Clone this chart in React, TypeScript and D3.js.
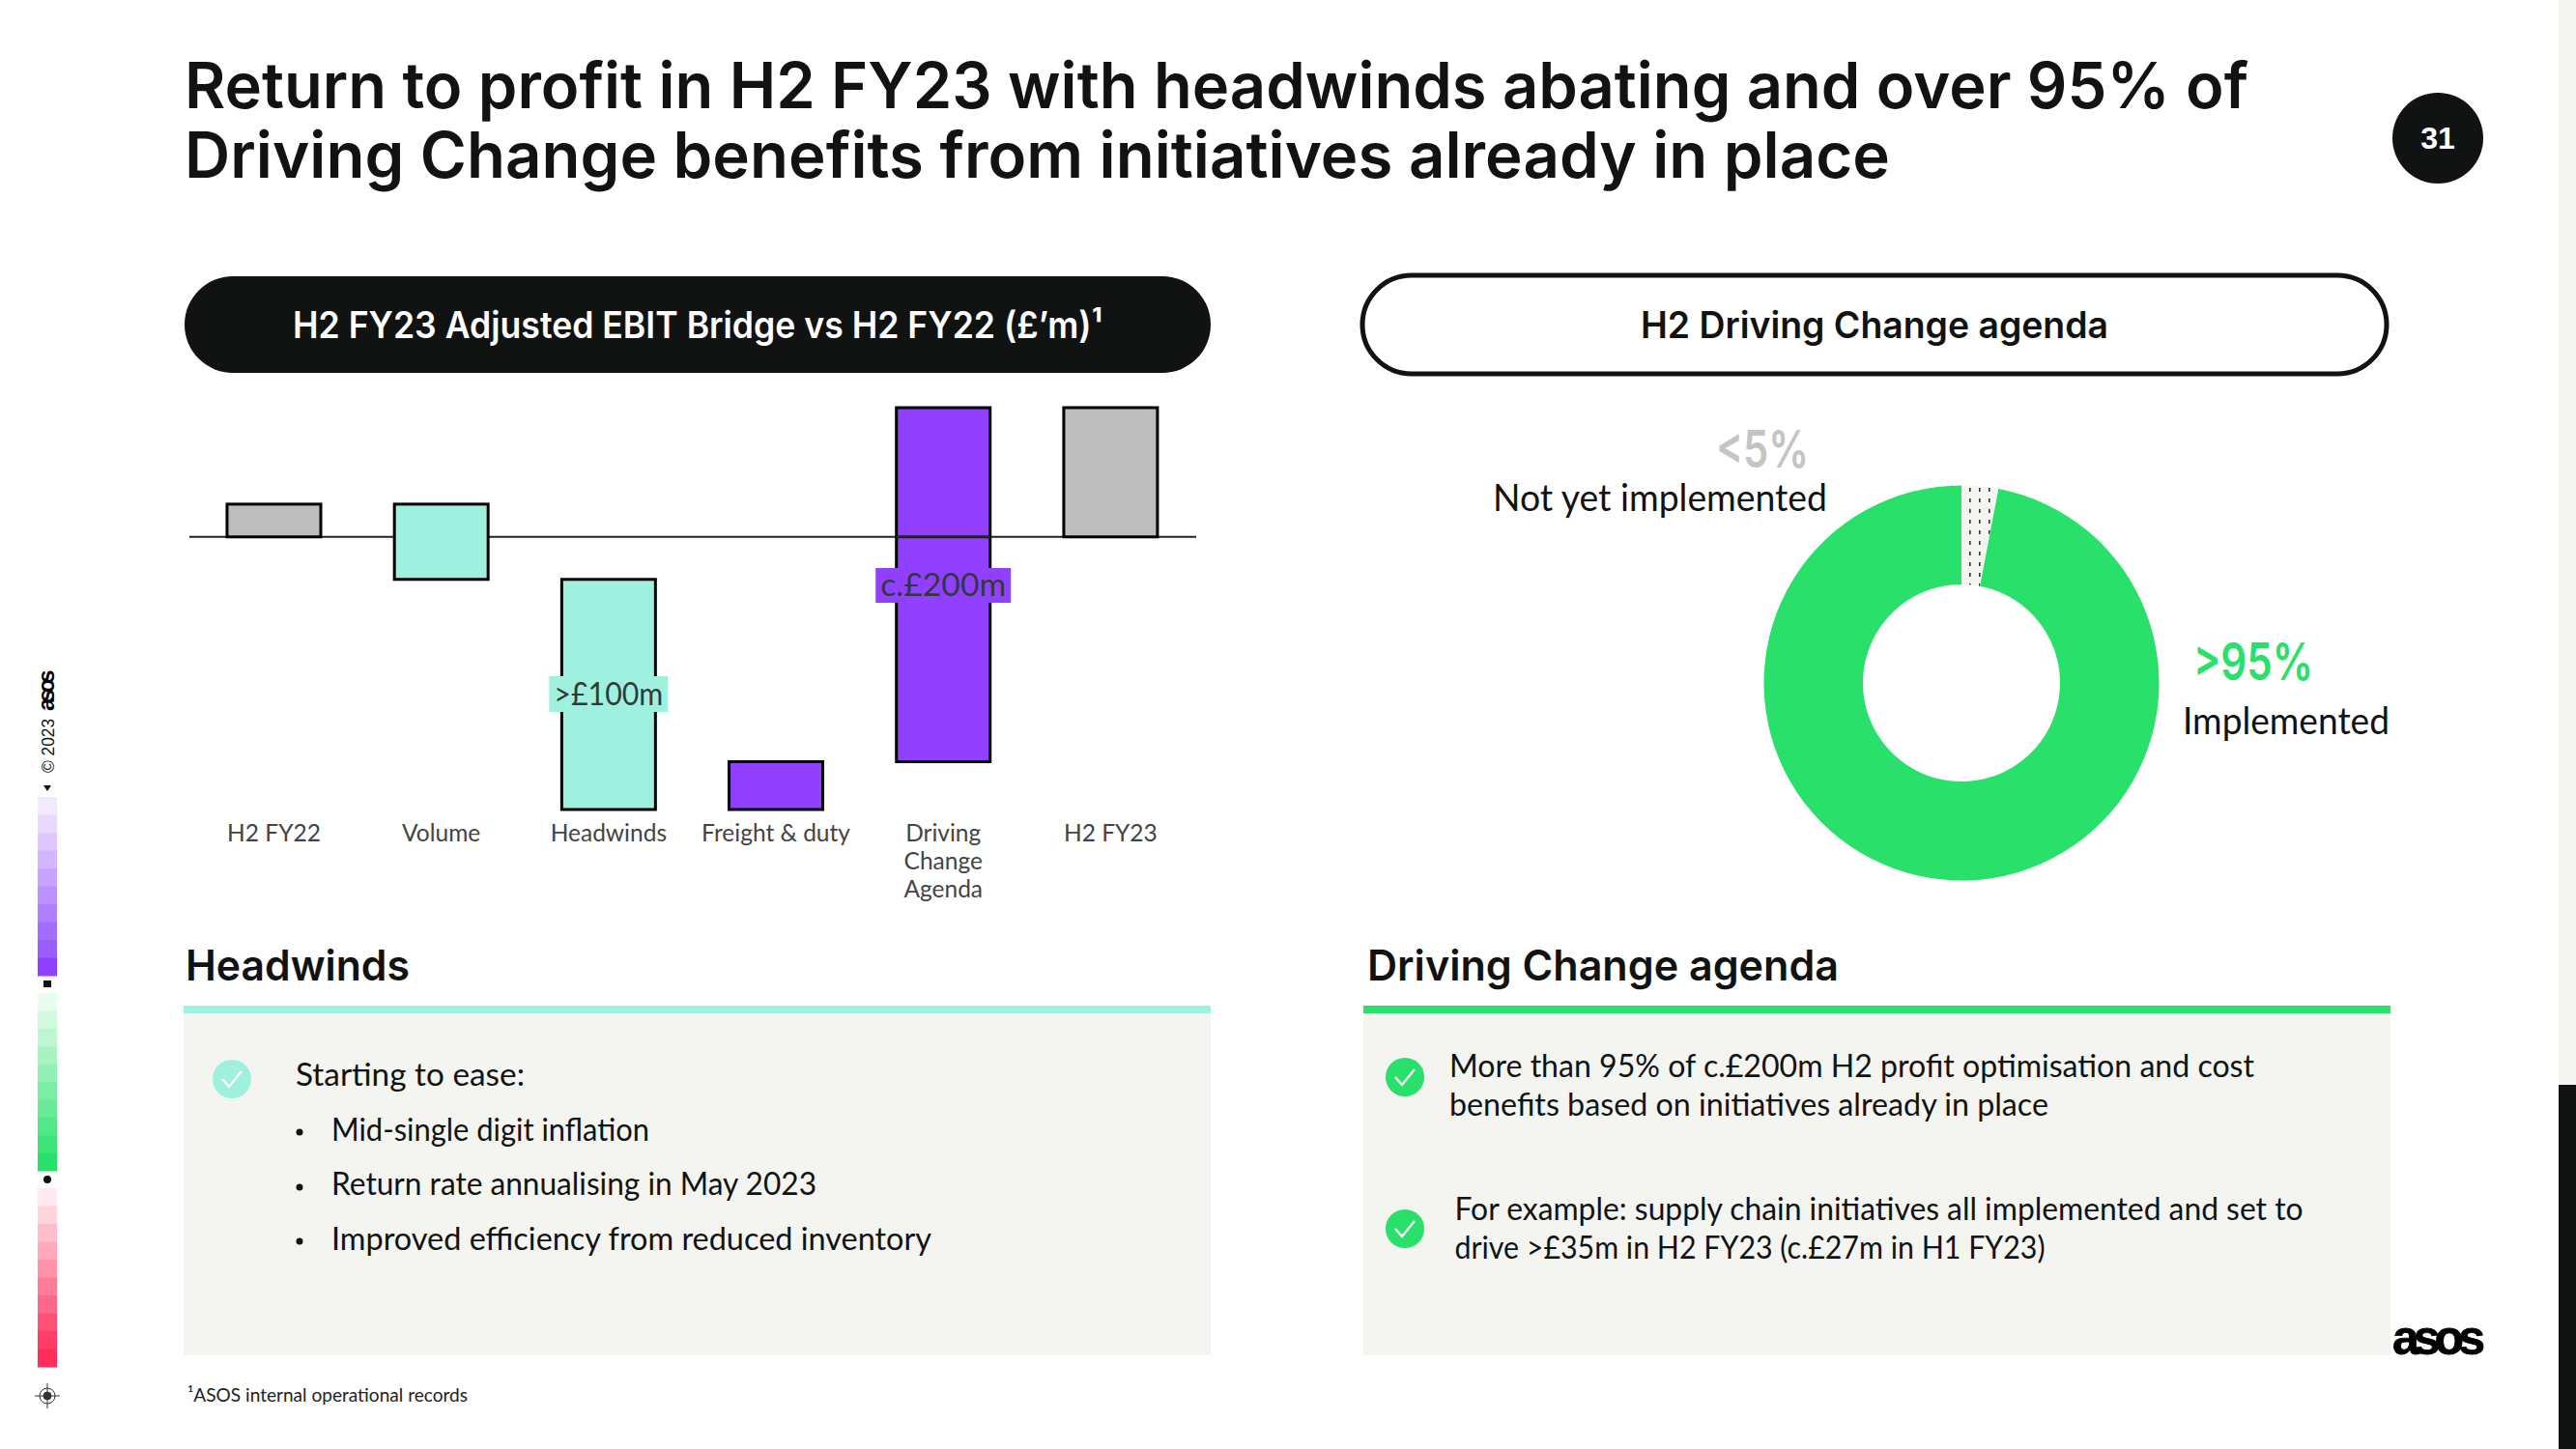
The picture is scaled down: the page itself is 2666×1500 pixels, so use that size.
import React from "react";
import * as d3 from "d3";

const categories = ["H2 FY22", "Volume", "Headwinds", "Freight & duty", "Driving Change Agenda", "H2 FY23"];
const categoryLines = [["H2 FY22"], ["Volume"], ["Headwinds"], ["Freight & duty"], ["Driving", "Change", "Agenda"], ["H2 FY23"]];
const bridgeValues = [18.5, -42.5, -130, 27, 200, 73];
const bridgeIsTotal = [true, false, false, false, false, true];
const bridgeColours = ["#BDBDBD", "#A0F0E0", "#A0F0E0", "#9140FF", "#9140FF", "#BDBDBD"];
const bridgeLabels = ["", "", ">£100m", "", "c.£200m", ""];
const donutNames = ["Not yet implemented", "Implemented"];
const donutValues = [3, 97];
const stripPurple = ["#F3E9FF", "#E9D9FF", "#DEC8FF", "#D2B6FF", "#C7A4FF", "#BB92FF", "#AF80FF", "#A36EFF", "#9A5DFF", "#9140FF"];
const stripGreen = ["#E9FCF0", "#D4F9E1", "#BEF6D2", "#A9F3C3", "#93F0B4", "#7DEDA5", "#68EA96", "#52E787", "#3DE478", "#28E06A"];
const stripRed = ["#FFE9EE", "#FFD4DD", "#FFBECC", "#FFA9BB", "#FF93AA", "#FF7D99", "#FF6888", "#FF5277", "#FF3D66", "#FF2D5A"];

const BLACK = "#111312";
const PANEL = "#F4F4F0";
const GREEN = "#28E06A";
const TEAL = "#A0F0E0";
const TITLE_FONT = "Inter, sans-serif";
const BODY_FONT = "Lato, sans-serif";
const LOGO_FONT = "Liberation Sans, sans-serif";

type TProps = { x: number; y: number; w?: number; size: number; weight?: number; fill?: string; font?: string; anchor?: string; children: React.ReactNode };
function T({ x, y, w, size, weight = 400, fill = BLACK, font = BODY_FONT, anchor = "start", children }: TProps) {
  return (
    <text x={x} y={y} fontSize={size} fontWeight={weight} fill={fill} fontFamily={font} textAnchor={anchor}
      {...(w ? { textLength: w, lengthAdjust: "spacingAndGlyphs" } : {})}>
      {children}
    </text>
  );
}

function Check({ cx, cy, fill }: { cx: number; cy: number; fill: string }) {
  return (
    <g transform={`translate(${cx},${cy})`}>
      <circle r={20} fill={fill} />
      <path d="M-10,0 L-3,8 L10,-8" fill="none" stroke="#fff" strokeWidth={2.2} />
    </g>
  );
}

function Strip({ colours, top, bottom }: { colours: string[]; top: number; bottom: number }) {
  const y = d3.scaleBand<number>().domain(d3.range(colours.length)).range([top, bottom]);
  return <g>{colours.map((c, i) => <rect key={i} x={39} y={y(i)} width={20} height={y.bandwidth() + 0.5} fill={c} />)}</g>;
}

function Bridge() {
  const x = d3.scaleBand<string>().domain(categories).range([196.9, 1236]).paddingInner(0.44).paddingOuter(0.22);
  const y = d3.scaleLinear().domain([-154, 73]).range([838, 422]);
  let running = 0;
  const bars = bridgeValues.map((v, i) => {
    const start = bridgeIsTotal[i] ? 0 : running;
    const end = bridgeIsTotal[i] ? v : running + v;
    running = end;
    return { cat: categories[i], lo: Math.min(start, end), hi: Math.max(start, end), colour: bridgeColours[i], label: bridgeLabels[i], lines: categoryLines[i] };
  });
  const chip: Record<string, [number, number]> = { ">£100m": [123, 37], "c.£200m": [140, 36] };
  return (
    <g>
      <line x1={196} x2={1238} y1={y(0)} y2={y(0)} stroke="#222" strokeWidth={2} />
      {bars.map((b) => (
        <rect key={b.cat} x={x(b.cat)} y={y(b.hi)} width={x.bandwidth()} height={y(b.lo) - y(b.hi)} fill={b.colour} stroke="#000" strokeWidth={3} />
      ))}
      <line x1={x(categories[4])} x2={(x(categories[4]) as number) + x.bandwidth()} y1={y(0)} y2={y(0)} stroke="#222" strokeWidth={3} />
      {bars.map((b) => {
        const cx = (x(b.cat) as number) + x.bandwidth() / 2;
        return (
          <g key={b.cat}>
            {b.label && (() => {
              const [w, h] = chip[b.label];
              const cy = b.label === ">£100m" ? 718.5 : 606;
              return (
                <g>
                  <rect x={cx - w / 2} y={cy - h / 2} width={w} height={h} fill={b.colour} />
                  <T x={cx} y={cy + 11} size={32} anchor="middle" fill="#33383a" w={w - 10}>{b.label}</T>
                </g>
              );
            })()}
            {b.lines.map((l, k) => (
              <text key={k} x={cx} y={871 + k * 29} fontSize={24.5} fill="#444" fontFamily={BODY_FONT} textAnchor="middle">{l}</text>
            ))}
          </g>
        );
      })}
    </g>
  );
}

function Donut() {
  const pie = d3.pie<number>().sort(null).startAngle(0).endAngle(Math.PI * 2);
  const arc = d3.arc<d3.PieArcDatum<number>>().innerRadius(102).outerRadius(204.5);
  const arcs = pie(donutValues);
  return (
    <g transform="translate(2030,707)">
      {arcs.map((a, i) => (
        <path key={donutNames[i]} d={arc(a) as string} fill={i === 0 ? "url(#dots)" : GREEN} />
      ))}
    </g>
  );
}

export default function App() {
  return (
    <svg width={2666} height={1500} viewBox="0 0 2666 1500" style={{ position: "absolute", left: 0, top: 0, background: "#fff" }}>
      <defs>
        <pattern id="dots" width={10} height={11} patternUnits="userSpaceOnUse" patternTransform="translate(2036,500)">
          <rect width={10} height={11} fill="#F4F4F0" />
          <rect x={2} y={2} width={1.6} height={4} fill="#333" />
        </pattern>
      </defs>

      <rect x={2648} y={0} width={18} height={1123} fill={PANEL} />
      <rect x={2648} y={1123} width={18} height={377} fill={BLACK} />

      <T x={191} y={112} w={2136} size={66} weight={600} font={TITLE_FONT}>Return to profit in H2 FY23 with headwinds abating and over 95% of</T>
      <T x={191} y={184} w={1765} size={66} weight={600} font={TITLE_FONT}>Driving Change benefits from initiatives already in place</T>
      <circle cx={2523} cy={143} r={47} fill={BLACK} />
      <T x={2523} y={154} size={32} weight={700} fill="#fff" font={LOGO_FONT} anchor="middle">31</T>

      <rect x={191} y={286} width={1062} height={100} rx={50} fill={BLACK} />
      <T x={303} y={350} w={838} size={38} weight={600} fill="#fff" font={TITLE_FONT}>H2 FY23 Adjusted EBIT Bridge vs H2 FY22 (£’m)¹</T>
      <rect x={1410} y={285} width={1060} height={102} rx={51} fill="#fff" stroke={BLACK} strokeWidth={5} />
      <T x={1698} y={350} w={484} size={38} weight={600} font={TITLE_FONT}>H2 Driving Change agenda</T>

      <Bridge />
      <Donut />
      <T x={1776} y={484} w={96} size={54} weight={600} fill="#C4C4C4" font={TITLE_FONT}>&lt;5%</T>
      <T x={1545} y={529} w={346} size={38}>Not yet implemented</T>
      <T x={2270} y={704} w={124} size={54} weight={600} fill={GREEN} font={TITLE_FONT}>&gt;95%</T>
      <T x={2259} y={760} w={214} size={38}>Implemented</T>

      <T x={192} y={1015} w={232} size={44} weight={600} font={TITLE_FONT}>Headwinds</T>
      <T x={1415} y={1015} w={488} size={44} weight={600} font={TITLE_FONT}>Driving Change agenda</T>

      <rect x={190} y={1049} width={1063} height={354} fill={PANEL} />
      <rect x={190} y={1041} width={1063} height={8} fill={TEAL} />
      <rect x={1411} y={1049} width={1063} height={354} fill={PANEL} />
      <rect x={1411} y={1041} width={1063} height={8} fill={GREEN} />

      <Check cx={240} cy={1117} fill={TEAL} />
      <T x={306} y={1124} w={237} size={33}>Starting to ease:</T>
      <circle cx={310} cy={1172} r={3.5} fill={BLACK} />
      <T x={343} y={1181} w={329} size={33}>Mid-single digit inflation</T>
      <circle cx={310} cy={1229} r={3.5} fill={BLACK} />
      <T x={343} y={1237} w={502} size={33}>Return rate annualising in May 2023</T>
      <circle cx={310} cy={1285} r={3.5} fill={BLACK} />
      <T x={343} y={1294} w={621} size={33}>Improved efficiency from reduced inventory</T>

      <Check cx={1454} cy={1115} fill={GREEN} />
      <T x={1500} y={1115} w={833} size={33}>More than 95% of c.£200m H2 profit optimisation and cost</T>
      <T x={1500} y={1155} w={620} size={33}>benefits based on initiatives already in place</T>
      <Check cx={1454} cy={1272} fill={GREEN} />
      <T x={1505.5} y={1263} w={878} size={33}>For example: supply chain initiatives all implemented and set to</T>
      <T x={1505.5} y={1303} w={611} size={33}>drive &gt;£35m in H2 FY23 (c.£27m in H1 FY23)</T>

      <T x={194} y={1451} w={290} size={20} fill="#222">¹ASOS internal operational records</T>
      <text x={2476} y={1402} fontSize={50} fontWeight={700} fontFamily={LOGO_FONT} fill="#000" stroke="#000" strokeWidth={0.8} letterSpacing={-6}>asos</text>

      <g transform="translate(56,800) rotate(-90)">
        <T x={0} y={0} w={56} size={18} font={LOGO_FONT}>© 2023</T>
        <text x={64} y={0} fontSize={24} fontWeight={700} fontFamily={LOGO_FONT} fill="#000" letterSpacing={-4}>asos</text>
      </g>
      <path d="M45,813 L53,813 L49,819 Z" fill={BLACK} />
      <Strip colours={stripPurple} top={825} bottom={1010} />
      <rect x={45} y={1015} width={8} height={7} fill={BLACK} />
      <Strip colours={stripGreen} top={1028} bottom={1212} />
      <circle cx={49} cy={1221} r={4} fill={BLACK} />
      <Strip colours={stripRed} top={1230} bottom={1415} />
      <g transform="translate(49,1445)" stroke="#333" fill="none" strokeWidth={1}>
        <circle r={8} />
        <circle r={4} fill="#333" />
        <line x1={-13} x2={13} y1={0} y2={0} />
        <line x1={0} x2={0} y1={-13} y2={13} />
      </g>
    </svg>
  );
}
